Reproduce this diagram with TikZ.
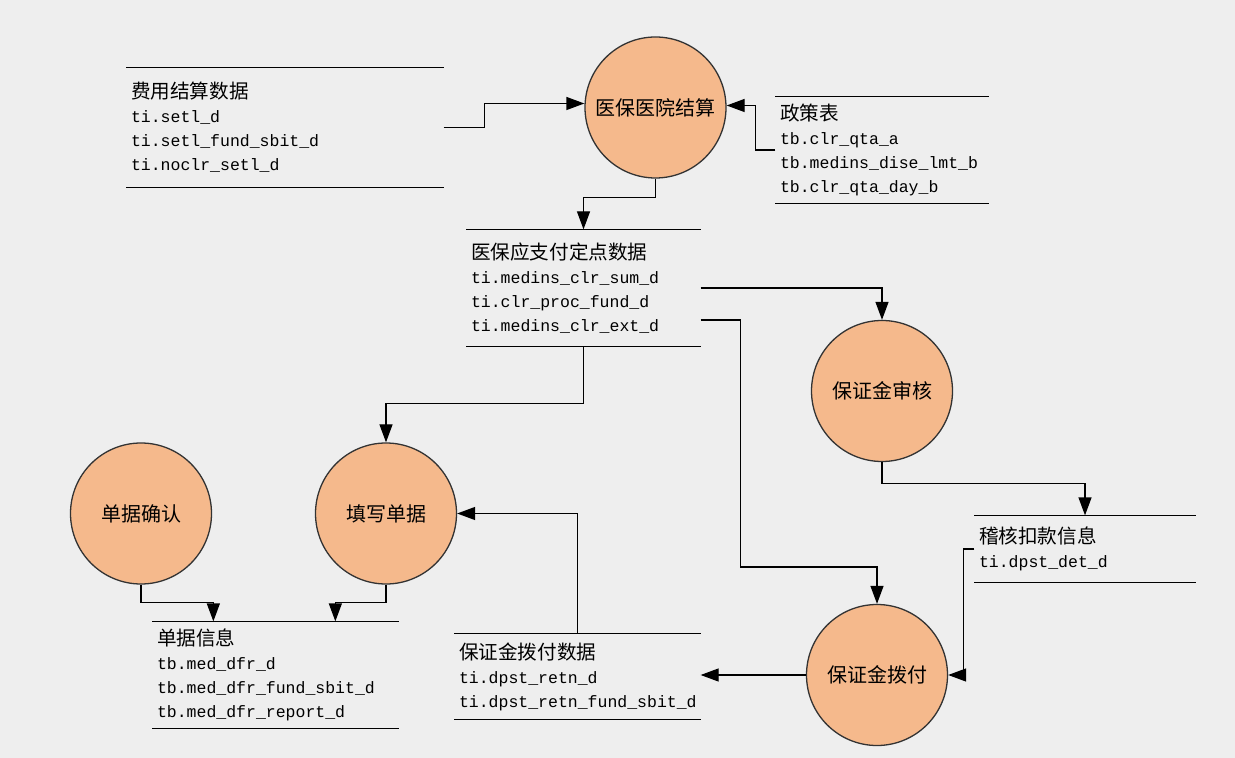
\documentclass[tikz,border=0pt]{standalone}
\usepackage{fontspec}
\setmonofont{Liberation Mono}
\newfontfamily\cjk{Noto Sans CJK SC}
\usetikzlibrary{arrows.meta,calc,positioning}
\definecolor{procfill}{RGB}{245,185,140}
\definecolor{bg}{RGB}{238,238,238}
\tikzset{every picture/.style={line width=0.65pt}}
\tikzstyle{proc}=[circle,fill=procfill,draw=black!80,minimum size=70.5pt,inner sep=0pt,font=\cjk\fontsize{10}{12}\selectfont]
\tikzset{store/.style 2 args={rectangle,minimum width=#1,text width=#1-4pt,minimum height=#2,inner xsep=2pt,align=left,font=\fontsize{8.25}{12}\selectfont\ttfamily}}
\newcommand{\hd}[1]{{\cjk\fontsize{9.8}{12}\selectfont #1}}

\begin{document}
\begin{tikzpicture}[x=0.5pt,y=-0.5pt,>={Triangle[length=9pt,width=6.5pt]}]
\fill[bg] (0,0) rectangle (1235,758);
\useasboundingbox (0,0) rectangle (1235,758);
% processes
\node[proc] (A) at (655.5,107.5) {医保医院结算};
\node[proc] (B) at (882,391) {保证金审核};
\node[proc] (C) at (141,513.5) {单据确认};
\node[proc] (D) at (386,513.5) {填写单据};
\node[proc] (E) at (877,675) {保证金拨付};
% data stores
\node[store={158pt}{59.5pt}] (F) at (285,127.5) {\hd{费用结算数据}\\ti.setl\_d\\ti.setl\_fund\_sbit\_d\\ti.noclr\_setl\_d};
\node[store={106pt}{53pt}] (G) at (882,150) {\hd{政策表}\\tb.clr\_qta\_a\\tb.medins\_dise\_lmt\_b\\tb.clr\_qta\_day\_b};
\node[store={116.5pt}{58pt}] (H) at (583.5,288) {\hd{医保应支付定点数据}\\ti.medins\_clr\_sum\_d\\ti.clr\_proc\_fund\_d\\ti.medins\_clr\_ext\_d};
\node[store={110pt}{33pt}] (I) at (1085,549) {\hd{稽核扣款信息}\\ti.dpst\_det\_d};
\node[store={122.5pt}{42.5pt}] (J) at (577.5,676.5) {\hd{保证金拨付数据}\\ti.dpst\_retn\_d\\ti.dpst\_retn\_fund\_sbit\_d};
\node[store={122.5pt}{53pt}] (K) at (275.5,675) {\hd{单据信息}\\tb.med\_dfr\_d\\tb.med\_dfr\_fund\_sbit\_d\\tb.med\_dfr\_report\_d};
\foreach \s in {F,G,H,I,J,K}
  \draw (\s.north west) -- (\s.north east) (\s.south west) -- (\s.south east);
% flows
\draw[->] (F.east) -- ++(41,0) |- ([yshift=2pt]A.west);
\draw[->] (G.west) -- ++(-20,0) |- ([yshift=1pt]A.east);
\draw[->] (A.south) -- ++(0,19) -| (H.north);
\draw[->] (H.east) -| (B.north);
\draw[->] (H.east) ++(0,32) -- ++(40,0) -- ++(0,247) -| (E.north);
\draw[->] (H.south) -- ++(0,57) -| (D.north);
\draw[->] (B.south) -- ++(0,21) -| (I.north);
\draw[->] (I.west) -- ++(-11,0) |- (E.east);
\draw[->] (E.west) -- (E.west -| J.east);
\draw[->] (J.north) |- (D.east);
\draw[->] (C.south) -- ++(0,18) -| ($(K.north west)+(61,0)$);
\draw[->] (D.south) -- ++(0,18) -| ($(K.north west)+(183,0)$);
\end{tikzpicture}
\end{document}
